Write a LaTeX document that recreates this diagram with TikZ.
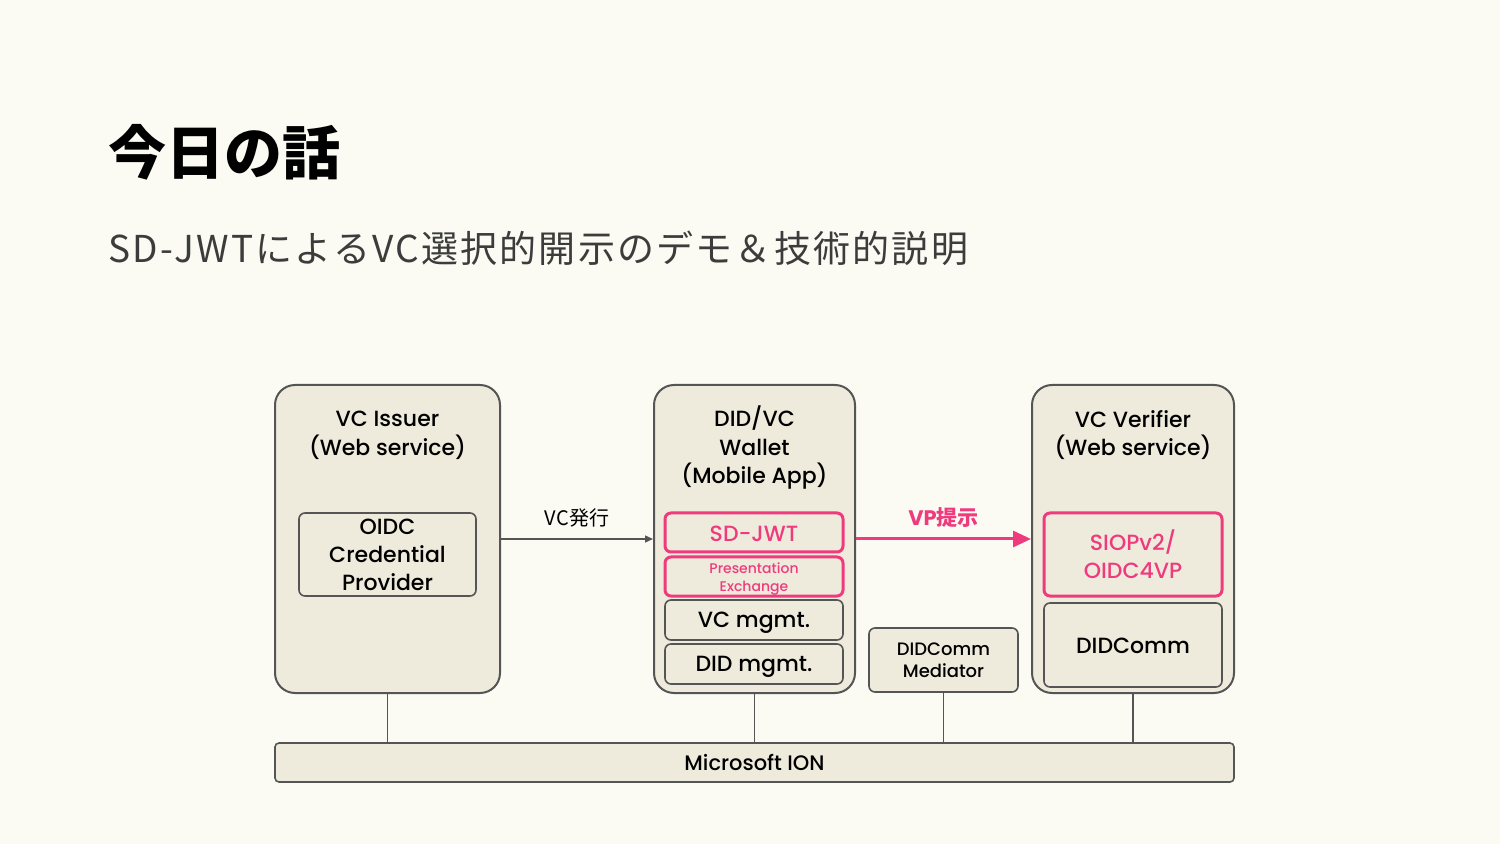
\documentclass[tikz,border=0pt]{standalone}
\usepackage{fontspec}
\setmainfont{Poppins}[UprightFont={* Medium}, BoldFont={* Bold}]
\newfontfamily\cjk{Noto Sans CJK JP}
\newfontfamily\cjksub{Noto Sans CJK JP}[LetterSpace=6]
\usetikzlibrary{arrows.meta}
\definecolor{bg}{HTML}{FBFBF3}
\definecolor{boxfill}{HTML}{EEEBDC}
\definecolor{edge}{HTML}{555555}
\definecolor{pinkc}{HTML}{EF3A7D}
\definecolor{subtxt}{HTML}{3C3C3C}
\newcommand\dn[1]{\raisebox{-1.6pt}[\height][\depth]{#1}}
\newcommand\dnh[1]{\raisebox{-0.6pt}[\height][\depth]{#1}}
\tikzset{
  outerbox/.style={draw=edge, fill=boxfill, line width=1pt, rounded corners=10pt, inner sep=0pt},
  innerbox/.style={draw=edge, fill=boxfill, line width=0.8pt, rounded corners=3pt, inner sep=0pt, align=center, font=\fontsize{11}{14}\selectfont},
  pinkbox/.style={draw=pinkc, fill=boxfill, line width=1.5pt, rounded corners=3pt, inner sep=0pt, align=center, text=pinkc, font=\fontsize{11}{14}\selectfont},
  headtxt/.style={align=center, inner sep=0pt, font=\fontsize{11}{14.4}\selectfont},
  link/.style={draw=edge, line width=0.8pt},
}
\begin{document}
\begin{tikzpicture}[x=0.5pt, y=-0.5pt]
\useasboundingbox (0,0) rectangle (1500,844);
\fill[bg] (0,0) rectangle (1500,844);

\node[anchor=west, inner sep=0pt, font=\cjk\bfseries\fontsize{29}{30}\selectfont] (title) at (108,152) {今日の話};
\node[anchor=west, inner sep=0pt, text=subtxt, font=\cjksub\fontsize{18.5}{20}\selectfont] (subtitle) at (108,248) {SD-JWTによるVC選択的開示のデモ＆技術的説明};

% outer boxes
\node[outerbox, minimum width=112.5pt, minimum height=154pt] (issuer) at (387.5,539) {};
\node[outerbox, minimum width=100.5pt, minimum height=154pt] (wallet) at (754.5,539) {};
\node[outerbox, minimum width=101pt, minimum height=154pt] (verifier) at (1133,539) {};

\node[headtxt] (issuerlbl) at (387.5,435) {VC Issuer\\(Web service)};
\node[headtxt] (walletlbl) at (754.5,447.5) {DID/VC\\Wallet\\(Mobile App)};
\node[headtxt] (verifierlbl) at (1133,435) {VC Verifier\\(Web service)};

% inner boxes
\node[innerbox, minimum width=88.5pt, minimum height=41.5pt] (oidc) at (387.5,554.5) {OIDC\\Credential\\Provider};
\node[pinkbox, minimum width=89pt, minimum height=19.5pt] (sdjwt) at (754,532.5) {\dnh{SD-JWT}};
\node[pinkbox, minimum width=89pt, minimum height=19.5pt] (pex) at (754,576.5) {};
\node[align=center, inner sep=0pt, text=pinkc, font=\fontsize{7}{9}\selectfont] (pextxt) at (754,579) {Presentation\\Exchange};
\node[innerbox, minimum width=89pt, minimum height=20pt] (vcm) at (754,620) {\dn{VC mgmt.}};
\node[innerbox, minimum width=89pt, minimum height=20pt] (didm) at (754,664) {\dn{DID mgmt.}};
\node[pinkbox, minimum width=89pt, minimum height=41.5pt] (siop) at (1133,554.5) {SIOPv2/\\OIDC4VP};
\node[innerbox, minimum width=89pt, minimum height=42pt] (didcomm) at (1133,645) {\dnh{DIDComm}};
\node[innerbox, minimum width=74.5pt, minimum height=32pt, font=\fontsize{9}{11}\selectfont] (mediator) at (943.5,660) {DIDComm\\Mediator};

% ION
\node[draw=edge, fill=boxfill, line width=0.8pt, rounded corners=2pt, minimum width=479.5pt, minimum height=19.5pt, inner sep=0pt, font=\fontsize{10.5}{12}\selectfont] (ion) at (754.5,762.5) {Microsoft ION};

% vertical links
\draw[link] (issuer.south) -- (issuer.south |- ion.north);
\draw[link] (wallet.south) -- (wallet.south |- ion.north);
\draw[link] (mediator.south) -- (mediator.south |- ion.north);
\draw[link] (verifier.south) -- (verifier.south |- ion.north);

% arrows
\draw[draw=edge, line width=0.7pt, -{Triangle[length=4pt,width=3.5pt]}] (issuer.east |- 0,539) -- (wallet.west |- 0,539)
  node[midway, above=5.5pt, inner sep=0pt, text=black, font=\cjk\fontsize{10}{12}\selectfont] (vclbl) {VC発行};
\draw[draw=pinkc, line width=1.5pt, -{Triangle[length=9pt,width=8pt]}] (wallet.east |- 0,539) -- (verifier.west |- 0,539)
  node[midway, above=5pt, inner sep=0pt, text=pinkc, font=\bfseries\fontsize{10.5}{12}\selectfont] (vplbl) {VP{\cjk\bfseries 提示}};
\end{tikzpicture}
\end{document}
